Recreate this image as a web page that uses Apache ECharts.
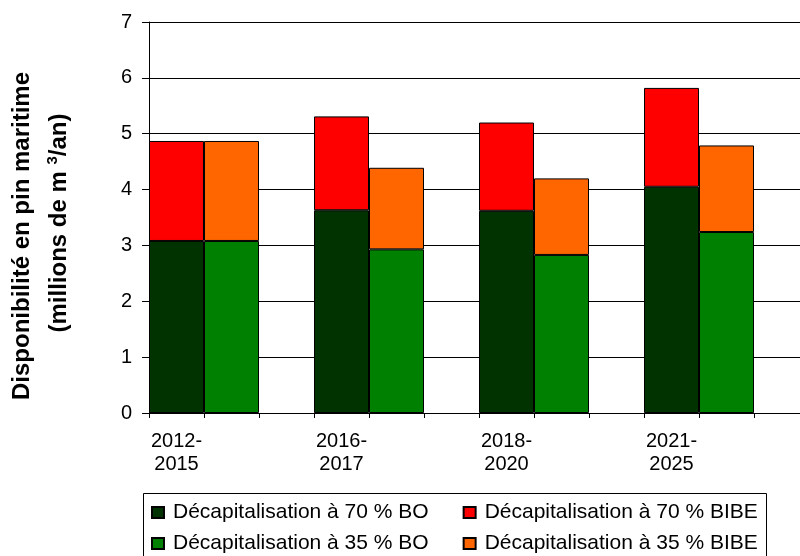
<!DOCTYPE html>
<html>
<head>
<meta charset="utf-8">
<script src="https://cdn.jsdelivr.net/npm/echarts@6/dist/echarts.min.js"></script>
<style>html,body{margin:0;padding:0;background:#fff;}#c{width:800px;height:556px;}</style>
</head>
<body>
<div id="c"></div>
<script>
var periods = ['2012-\n2015', '2016-\n2017', '2018-\n2020', '2021-\n2025'];
var yTicks = [0, 1, 2, 3, 4, 5, 6, 7];
var bo70 = [3.08, 3.63, 3.62, 4.05];
var bibe70 = [1.79, 1.68, 1.58, 1.77];
var bo35 = [3.08, 2.93, 2.83, 3.24];
var bibe35 = [1.79, 1.46, 1.37, 1.55];
var names = ['Décapitalisation à 70 % BO', 'Décapitalisation à 70 % BIBE',
             'Décapitalisation à 35 % BO', 'Décapitalisation à 35 % BIBE'];
var colors = ['#003300', '#FF0000', '#008000', '#FF6600'];

// three slots per period: 70% stack, 35% stack, empty gap
var cats = [];
periods.forEach(function (p) { cats.push(p, '', ''); });
function slot(arr, pos) {
  var out = [];
  arr.forEach(function (v) {
    for (var k = 0; k < 3; k++) out.push(k === pos ? v : '-');
  });
  return out;
}
var FONT = "'Liberation Sans', Arial, sans-serif";
var seriesData = [slot(bo70, 0), slot(bibe70, 0), slot(bo35, 1), slot(bibe35, 1)];

var chart = echarts.init(document.getElementById('c'), null, {renderer: 'canvas'});
chart.setOption({
  animation: false,
  backgroundColor: '#fff',
  grid: {left: 149, top: 22, width: 660, height: 391, containLabel: false, outerBoundsMode: 'none'},
  xAxis: {
    type: 'category',
    data: cats,
    boundaryGap: true,
    axisLine: {lineStyle: {color: '#000', width: 1}},
    axisTick: {show: true, interval: 0, length: 5, lineStyle: {color: '#000'}},
    axisLabel: {interval: 0, color: '#000', fontSize: 20, fontFamily: FONT, lineHeight: 23, margin: 17}
  },
  yAxis: {
    type: 'value',
    min: yTicks[0],
    max: yTicks[yTicks.length - 1],
    interval: 1,
    axisLine: {show: true, lineStyle: {color: '#000', width: 1}},
    axisTick: {show: true, length: 7, lineStyle: {color: '#000'}},
    axisLabel: {color: '#000', fontSize: 20, fontFamily: FONT, margin: 17},
    splitLine: {show: true, lineStyle: {color: '#000', width: 1}}
  },
  legend: [
    {
      data: [names[0], names[1]],
      left: 151, top: 502, padding: 0, itemGap: 34,
      itemWidth: 12, itemHeight: 11, icon: 'rect',
      textStyle: {color: '#000', fontSize: 21, fontFamily: FONT, padding: [0, 0, 0, 4]},
      selectedMode: false
    },
    {
      data: [names[2], names[3]],
      left: 151, top: 533, padding: 0, itemGap: 34,
      itemWidth: 12, itemHeight: 11, icon: 'rect',
      textStyle: {color: '#000', fontSize: 21, fontFamily: FONT, padding: [0, 0, 0, 4]},
      selectedMode: false
    }
  ],
  graphic: [
    {
      type: 'rect', silent: true,
      shape: {x: 143.5, y: 493.5, width: 623, height: 80},
      style: {fill: 'none', stroke: '#000', lineWidth: 1}
    },
    {
      type: 'text', x: 22, y: 236, rotation: Math.PI / 2, silent: true,
      style: {text: 'Disponibilité en pin maritime', fontSize: 24, fontWeight: 'bold',
              fontFamily: FONT, fill: '#000', align: 'center', verticalAlign: 'middle'}
    },
    {
      type: 'text', x: 59, y: 223, rotation: Math.PI / 2, silent: true,
      style: {text: '(millions de m {sup|3}/an)', fontSize: 24, fontWeight: 'bold',
              fontFamily: FONT, fill: '#000', align: 'center', verticalAlign: 'middle',
              lineHeight: 28,
              rich: {sup: {fontSize: 15, fontWeight: 'bold', fontFamily: FONT, fill: '#000',
                           lineHeight: 15, verticalAlign: 'top'}}}
    }
  ],
  series: seriesData.map(function (d, i) {
    return {
      name: names[i],
      type: 'bar',
      stack: 'all',
      data: d,
      barCategoryGap: '0%',
      barGap: '0%',
      itemStyle: {color: colors[i], borderColor: '#000', borderWidth: 1},
      emphasis: {disabled: true}
    };
  })
});
</script>
</body>
</html>
